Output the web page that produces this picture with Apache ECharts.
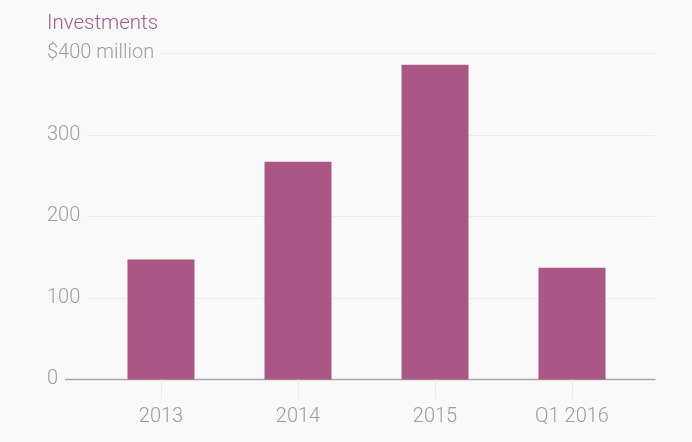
<!DOCTYPE html>
<html>
<head>
<meta charset="utf-8">
<script src="https://cdn.jsdelivr.net/npm/echarts@6/dist/echarts.min.js"></script>
<style>
  html, body { margin: 0; padding: 0; background: #f9f9f9; }
  #chart { width: 692px; height: 442px; }
</style>
</head>
<body>
<div id="chart"></div>
<script>
const categories = ['2013', '2014', '2015', 'Q1 2016'];
const investments = [147, 267, 386, 137];
const yTicks = [0, 100, 200, 300, 400];
const yUnitLabel = '$400 million';
const titleText = 'Investments';

const chart = echarts.init(document.getElementById('chart'));
const FONT = 'Roboto';
const GRAY = '#9e9e9e';
const TOP = 53.3, BOTTOM = 62.6;

chart.setOption({
  backgroundColor: '#f9f9f9',
  animation: false,
  title: {
    text: titleText,
    left: 47, top: 13, padding: 0,
    textStyle: { color: '#a85a8c', fontFamily: FONT, fontSize: 20.5, fontWeight: 300 }
  },
  grid: [
    { left: 47, right: 37, top: TOP, bottom: BOTTOM },
    { left: 64, right: 37, top: TOP, bottom: BOTTOM },
    { left: 92.5, right: 51.5, top: TOP, bottom: BOTTOM }
  ],
  xAxis: [
    { gridIndex: 0, type: 'value', show: false },
    { gridIndex: 1, type: 'value', show: true, min: 0, max: 1,
      axisLine: { show: true, lineStyle: { color: '#a6a6a6', width: 1.3 } },
      axisTick: { show: false }, axisLabel: { show: false }, splitLine: { show: false } },
    { gridIndex: 2, type: 'category', data: categories,
      axisLine: { show: false },
      axisTick: { show: true, alignWithLabel: true, length: 19, lineStyle: { color: '#ebebeb' } },
      axisLabel: { color: GRAY, fontFamily: FONT, fontSize: 20, fontWeight: 300, margin: 28 } }
  ],
  yAxis: [
    { gridIndex: 0, type: 'value', min: yTicks[0], max: yTicks[yTicks.length - 1], interval: 100,
      axisLine: { show: false }, axisTick: { show: false },
      splitLine: { show: true, lineStyle: { color: '#ececec', width: 1 } },
      axisLabel: {
        inside: true, margin: 0, align: 'left', verticalAlign: 'middle',
        color: GRAY, fontFamily: FONT, fontSize: 20, fontWeight: 300,
        backgroundColor: '#f9f9f9', padding: [2, 7, 2, 0],
        formatter: v => (v === yTicks[yTicks.length - 1] ? yUnitLabel : String(v))
      }
    },
    { gridIndex: 1, type: 'value', min: 0, max: 400, show: false },
    { gridIndex: 2, type: 'value', min: 0, max: 400, show: false }
  ],
  series: [{
    type: 'bar',
    xAxisIndex: 2, yAxisIndex: 2,
    data: investments,
    barWidth: 67,
    itemStyle: { color: '#ab5786' }
  }]
});
</script>
</body>
</html>
